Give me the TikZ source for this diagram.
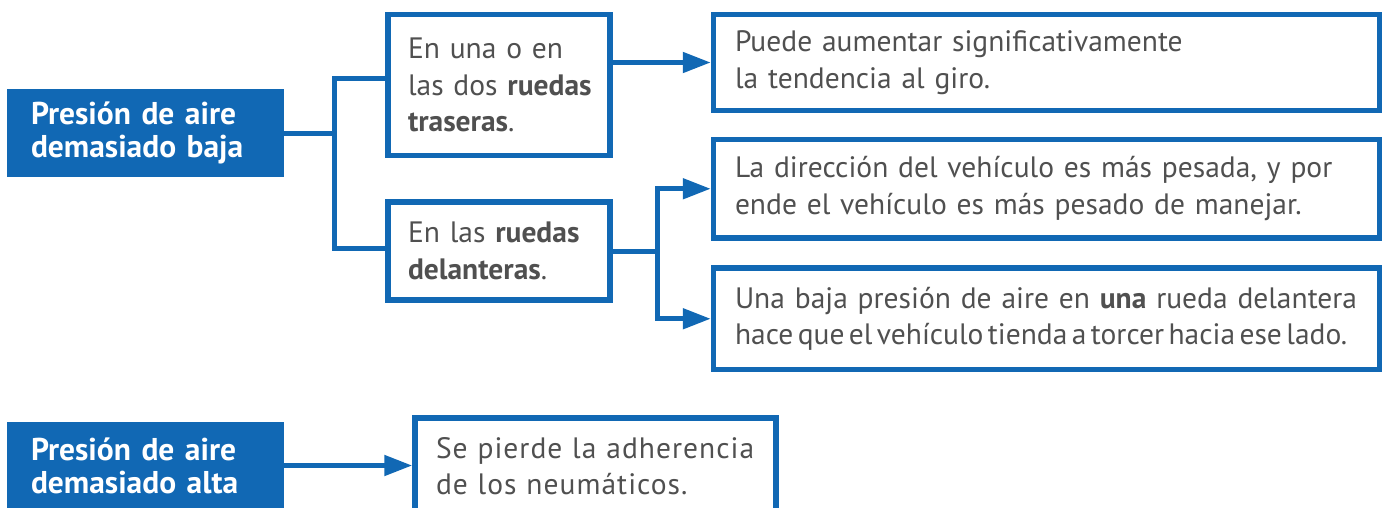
\documentclass[tikz,border=0pt]{standalone}
\usepackage{fontspec}
\setmainfont{PT Sans}
\usetikzlibrary{arrows.meta}
\definecolor{cblue}{RGB}{17,104,180}
\definecolor{ctext}{RGB}{80,80,80}
\begin{document}
\begin{tikzpicture}[x=1pt,y=-1pt,
  fbox/.style={fill=cblue, text=white, font=\fontsize{31.5}{33}\selectfont\bfseries, align=left, inner sep=0pt},
  obox/.style={draw=cblue, line width=5.5pt, fill=white, text=ctext, font=\fontsize{29.5}{36.5}\selectfont, align=left, inner sep=0pt},
  conn/.style={draw=cblue, line width=5pt},
  arr/.style={conn, -{Triangle[length=28pt,width=20pt]}}]
\useasboundingbox (0,0) rectangle (1384,507);

\node[fbox, minimum width=277pt, minimum height=88pt, text width=229pt] (low) at (145.5,133) {Presión de aire\\demasiado baja};
\node[obox, minimum width=222pt, minimum height=141pt, text width=182pt] (r1) at (499,85) {En una o en\\\mbox{las dos \textbf{ruedas}}\\\textbf{traseras}.};
\node[obox, minimum width=222pt, minimum height=98pt, text width=182pt] (r2) at (499,251) {En las \textbf{ruedas}\\\textbf{delanteras}.};
\node[obox, minimum width=666pt, minimum height=96pt, text width=623pt] (p1) at (1046.5,62.5) {Puede aumentar significativamente\\la tendencia al giro.};
\node[obox, minimum width=666pt, minimum height=98.5pt, text width=623pt] (p2) at (1046.5,188.75) {La dirección del vehículo es más pesada, y por\\ende el vehículo es más pesado de manejar.};
\node[obox, minimum width=666pt, minimum height=101.5pt, text width=623pt] (p3) at (1046.5,318.75) {\mbox{Una baja presión de aire en \textbf{una} rueda delantera}\\\mbox{\spaceskip=0.15em\relax hace que el vehículo tienda a torcer hacia ese lado.}};
\node[fbox, minimum width=277pt, minimum height=87pt, text width=229pt] (high) at (145.5,465.5) {Presión de aire\\demasiado alta};
\node[obox, minimum width=361pt, minimum height=96pt, text width=319pt, font=\fontsize{29.5}{36.5}\selectfont\addfontfeature{LetterSpace=3.5}] (q) at (595.5,466) {Se pierde la adherencia\\de los neumáticos.};

\coordinate (f1) at (334,133);
\coordinate (f2) at (657.5,251);
\draw[conn] (low.east) -- (f1);
\draw[conn] (r1.west |- 0,78) -| (f1) |- (r2.west |- 0,248);
\draw[arr] (r1.east |- p1.west) -- (p1.west);
\draw[conn] (r2.east) -- (f2);
\draw[arr] (f2) |- (p2.west);
\draw[arr] (f2) |- (p3.west);
\draw[arr] (high.east) -- (high.east -| q.west);
\end{tikzpicture}
\end{document}
